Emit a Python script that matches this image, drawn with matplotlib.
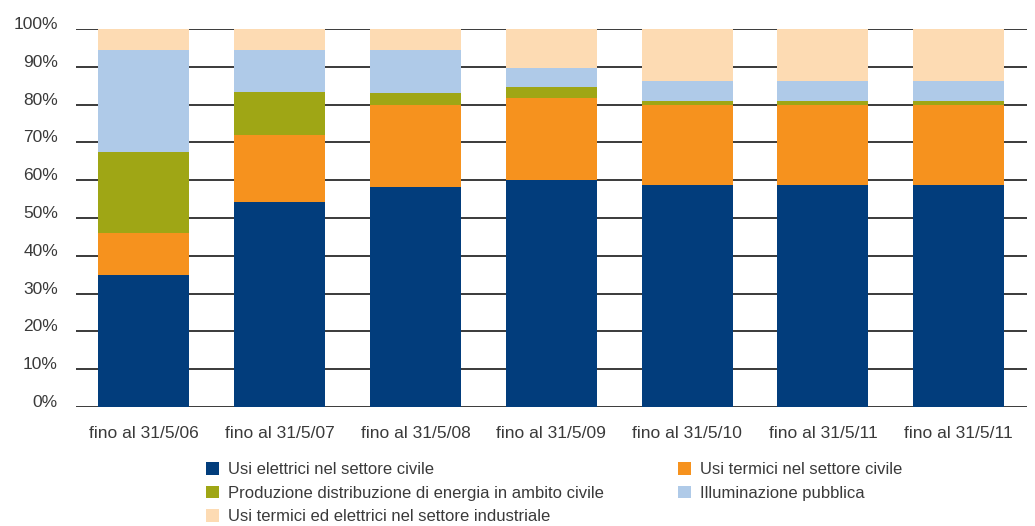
import numpy as np
import matplotlib.pyplot as plt
from matplotlib.patches import Patch

plt.rcParams['font.family'] = ['Liberation Sans Narrow', 'Liberation Sans', 'DejaVu Sans']

# Data (percent shares)
categories = ["fino al 31/5/06", "fino al 31/5/07", "fino al 31/5/08", "fino al 31/5/09",
              "fino al 31/5/10", "fino al 31/5/11", "fino al 31/5/11"]
elettrici_civile = [35.0, 54.2, 58.2, 60.0, 58.7, 58.7, 58.7]
termici_civile = [11.0, 17.8, 21.7, 21.7, 21.2, 21.2, 21.2]
produzione = [21.5, 11.3, 3.2, 3.0, 1.1, 1.1, 1.1]
illuminazione = [27.0, 11.1, 11.3, 5.0, 5.2, 5.2, 5.2]
industriale = [5.5, 5.6, 5.6, 10.3, 13.8, 13.8, 13.8]

series = [
    ("Usi elettrici nel settore civile", elettrici_civile, "#023d7c"),
    ("Usi termici nel settore civile", termici_civile, "#f6921e"),
    ("Produzione distribuzione di energia in ambito civile", produzione, "#9fa615"),
    ("Illuminazione pubblica", illuminazione, "#afcae8"),
    ("Usi termici ed elettrici nel settore industriale", industriale, "#fddbb3"),
]

fig = plt.figure(figsize=(10.35, 5.26), dpi=100)
ax = fig.add_axes([0.0734, 0.2262, 0.9186, 0.7187])

x = np.arange(len(categories))
bottom = np.zeros(len(categories))
for name, vals, col in series:
    ax.bar(x, vals, bottom=bottom, width=0.67, color=col, label=name, zorder=2)
    bottom += np.array(vals)

ax.set_xlim(-0.5, len(categories) - 0.5)
ax.set_ylim(0, 100)
ax.set_yticks(np.arange(0, 101, 10))
ax.set_yticklabels([f"{v}%" for v in range(0, 101, 10)])
ax.set_xticks(x)
ax.set_xticklabels(categories)
ax.yaxis.grid(True, color="#3a3a3a", linewidth=1.4, zorder=0)
ax.set_axisbelow(True)
for s in ax.spines.values():
    s.set_visible(False)
ax.tick_params(axis="both", length=0, colors="#3a3a3a", labelsize=12.5)
ax.tick_params(axis="x", pad=14)
ax.tick_params(axis="y", pad=13)
for lbl in ax.get_yticklabels():
    lbl.set_verticalalignment("baseline")

# legend: two columns placed separately
handles = [Patch(facecolor=c, edgecolor="none") for _, _, c in series]
labels = [n for n, _, _ in series]
kw = dict(frameon=False, fontsize=12, handlelength=0.8, handleheight=0.8,
          handletextpad=0.5, labelspacing=0.5, borderaxespad=0, borderpad=0,
          labelcolor="#3a3a3a", loc="upper left")
left_idx = [0, 2, 4]
right_idx = [1, 3]
fig.legend([handles[i] for i in left_idx], [labels[i] for i in left_idx],
           bbox_to_anchor=(206 / 1035, 1 - 462 / 526), **kw)
fig.legend([handles[i] for i in right_idx], [labels[i] for i in right_idx],
           bbox_to_anchor=(678 / 1035, 1 - 462 / 526), **kw)

fig.savefig("out.png", dpi=100)
